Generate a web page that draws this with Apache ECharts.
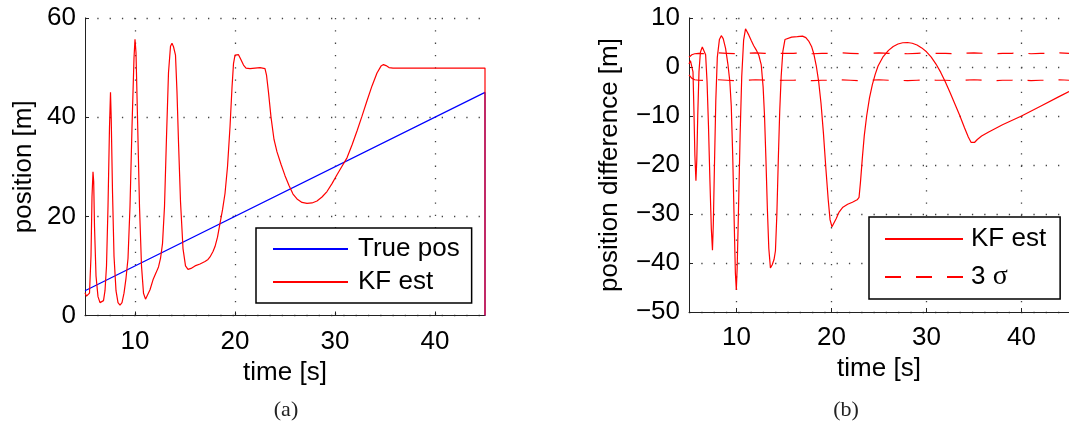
<!DOCTYPE html>
<html>
<head>
<meta charset="utf-8">
<script src="https://cdn.jsdelivr.net/npm/echarts@6/dist/echarts.min.js"></script>
<style>
  html, body { margin: 0; padding: 0; background: #fff; }
  #chart { width: 1069px; height: 433px; }
</style>
</head>
<body>
<div id="chart"></div>
<script>
// ---- (a) position: true trajectory and Kalman filter estimate ----
const truePosT = [5, 45, 45];
const truePosY = [5, 45, 0];

const estT = [5.0, 5.15, 5.3, 5.45, 5.6, 5.7, 5.8, 5.87, 5.95, 6.1, 6.3, 6.5, 6.7, 6.85,
  7.0, 7.15, 7.3, 7.45, 7.55, 7.62, 7.75, 7.9, 8.1, 8.3, 8.5, 8.7, 8.9, 9.1, 9.3, 9.5,
  9.7, 9.9, 10.0, 10.1, 10.25, 10.45, 10.65, 10.85, 11.05, 11.25, 11.5, 11.8, 12.1, 12.35,
  12.55, 12.75, 12.95, 13.15, 13.35, 13.55, 13.7, 13.85, 14.05, 14.2, 14.35, 14.55, 14.8,
  15.05, 15.3, 15.6, 16.0, 16.5, 17.0, 17.3, 17.5, 17.8, 18.0, 18.25, 18.5, 18.75, 19.0,
  19.25, 19.5, 19.7, 19.85, 20.0, 20.15, 20.35, 20.6, 20.85, 21.1, 21.5, 22.0, 22.5, 23.0,
  23.15, 23.35, 23.6, 23.9, 24.2, 24.6, 25.0, 25.4, 25.8, 26.2, 26.7, 27.2, 27.7, 28.2,
  28.7, 29.2, 29.7, 30.2, 30.7, 31.2, 31.7, 32.2, 32.7, 33.2, 33.7, 34.2, 34.6, 34.85,
  35.1, 35.4, 35.8, 40.0, 45.0, 45.0];
const estY = [4.6, 3.9, 3.8, 4.5, 12, 24, 29.0, 27, 18, 8, 3.8, 2.6, 2.4, 3.0,
  5, 10, 22, 38, 45.0, 40, 25, 12, 5, 2.6, 2.1, 2.6, 4.5, 7.5, 11.5, 22,
  38, 52, 55.7, 53, 40, 22, 10, 4.5, 3.3, 3.6, 5.2, 7.2, 8.6, 9.8,
  11.5, 14.5, 22, 36, 49, 54.3, 54.9, 54.2, 52.5, 45, 35, 23, 13.5,
  10.0, 9.3, 9.5, 10.0, 10.4, 10.9, 11.3, 11.8, 12.9, 13.9, 15.8, 18.6, 21.3, 24.6,
  30, 38, 46, 50.8, 52.5, 52.9, 52.6, 51.6, 50.5, 49.9, 49.8, 49.9, 50.0, 49.8,
  48.5, 45, 40, 35.5, 33, 30.5, 28.2, 26.2, 24.5, 23.5, 22.8, 22.6, 22.7, 23.1,
  23.9, 25.0, 26.6, 28.4, 30.1, 31.8, 34.4, 37.2, 40.2, 43.3, 46.3, 48.9, 50.3, 50.6,
  50.4, 50.0, 49.9, 49.9, 49.9, 0];

// ---- (b) position difference and its 3-sigma bound ----
const diffT = [5.0, 5.15, 5.3, 5.42, 5.52, 5.62, 5.73, 5.82, 5.92, 6.05, 6.2, 6.4, 6.57, 6.75,
  6.9, 7.05, 7.2, 7.35, 7.47, 7.56, 7.68, 7.82, 7.98, 8.2, 8.4, 8.6, 8.85, 9.1, 9.3, 9.45,
  9.6, 9.75, 9.88, 9.98, 10.07, 10.2, 10.38, 10.55, 10.75, 10.95, 11.1, 11.3, 11.55, 11.8,
  12.07, 12.35, 12.6, 12.8, 12.95, 13.1, 13.25, 13.4, 13.57, 13.75, 13.95, 14.1, 14.25,
  14.4, 14.55, 14.7, 14.88, 15.1, 15.3, 15.8, 16.4, 16.95, 17.3, 17.6, 17.9, 18.15, 18.4,
  18.65, 18.9, 19.15, 19.4, 19.65, 19.85, 20.05, 20.25, 20.5, 20.8, 21.2, 21.7, 22.2, 22.7,
  22.9, 23.05, 23.25, 23.45, 23.7, 24.0, 24.3, 24.6, 24.9, 25.4, 26.0, 26.5, 27.0, 27.5,
  28.0, 28.5, 29.0, 29.5, 30.0, 30.5, 31.0, 31.5, 32.0, 32.5, 33.0, 33.5, 34.0, 34.4, 34.7,
  34.88, 35.05, 35.35, 35.8, 36.5, 38.0, 40.0, 42.0, 44.0, 45.0];
const diffY = [0.6, 1.3, 1.5, -1, -9, -18, -23.2, -19, -10, -1, 3, 4.1, 4.2, 2.5,
  -3, -12, -23, -33, -37.4, -32, -20, -7, 2, 5.6, 6.4, 5.8, 3.8, 0.5, -3, -8,
  -18, -31, -42, -45.5, -41, -30, -14, -2, 5.5, 7.8, 7.6, 6.5, 5.4, 4.4,
  3.5, 2.4, 0.5, -4, -10, -19, -29, -37, -41.0, -40.4, -39.3, -37.5, -30,
  -19, -9, -2, 3.2, 5.6, 6.0, 6.1, 6.2, 6.3, 6.0, 5.3, 4.2, 2.6, 0.2,
  -3, -7.5, -13.5, -20.5, -27, -31.2, -32.6, -32.2, -30.9, -29.6, -28.6, -28.0, -27.6, -27.1,
  -26.6, -23.5, -18.5, -14, -10, -6.3, -3.6, -1.5, 0.2, 2.0, 3.4, 4.2, 4.7, 4.95,
  5.0, 4.85, 4.5, 3.9, 3.1, 2.0, 0.6, -1.1, -3.1, -5.3, -7.6, -9.9, -12.4, -14.3, -15.4,
  -15.7, -15.4, -14.8, -14.1, -13.3, -11.8, -10.0, -8.0, -6.0, -5.0];

const sigmaT = [5.0, 5.3, 5.6, 6, 7, 8, 9, 10, 11, 12, 13, 14, 15, 16, 17, 18, 19, 20,
  21, 22, 23, 24, 25, 26, 27, 28, 29, 30, 31, 32, 33, 34, 35, 36, 37, 38, 39, 40,
  41, 42, 43, 44, 45];
const sigmaUp = [2.0, 2.5, 2.7, 2.8, 2.7, 2.9, 2.8, 2.7, 2.8, 2.9, 2.8, 2.7, 2.8, 2.8, 2.9, 2.7, 2.8, 2.8,
  2.9, 2.8, 2.7, 2.8, 2.9, 2.8, 2.8, 2.7, 2.8, 2.9, 2.8, 2.8, 2.7, 2.8, 2.9, 2.8, 2.7, 2.8, 2.8, 2.9,
  2.7, 2.8, 2.8, 2.9, 2.8];
const sigmaLow = [-1.6, -2.3, -2.6, -2.7, -2.8, -2.6, -2.7, -2.8, -2.7, -2.6, -2.7, -2.8, -2.7, -2.7, -2.6, -2.8, -2.7, -2.7,
  -2.6, -2.7, -2.8, -2.7, -2.6, -2.7, -2.7, -2.8, -2.7, -2.6, -2.7, -2.7, -2.8, -2.7, -2.6, -2.7, -2.8, -2.7, -2.7, -2.6,
  -2.8, -2.7, -2.7, -2.6, -2.7];

const timeTicks = [10, 20, 30, 40];

const pairs = (xs, ys) => xs.map((x, i) => [x, ys[i]]);
const minusSign = v => String(v).replace('-', '\u2212');

const FONT = 'Liberation Sans';
const INK = '#000';
const AXIS_INK = '#222';
const AXIS_FS = 26;
const dotted = { type: [1.3, 11], color: '#444', width: 1.3 };

function timeAxis(gridIndex) {
  return {
    type: 'value', gridIndex, min: 5, max: 45,
    name: 'time [s]', nameLocation: 'middle', nameGap: 43,
    nameTextStyle: { fontFamily: FONT, fontSize: AXIS_FS, color: INK },
    axisLine: { onZero: false, lineStyle: { color: AXIS_INK, width: 1 } },
    axisTick: { inside: true, length: 4, customValues: timeTicks, lineStyle: { color: AXIS_INK } },
    axisLabel: { customValues: timeTicks, margin: 13, fontFamily: FONT, fontSize: AXIS_FS, color: INK },
    splitLine: { show: true, lineStyle: dotted }
  };
}

function valueAxis(gridIndex, name, min, max, interval, nameGap) {
  return {
    type: 'value', gridIndex, min, max, interval,
    name, nameLocation: 'middle', nameGap,
    nameTextStyle: { fontFamily: FONT, fontSize: AXIS_FS, color: INK },
    axisLine: { show: true, onZero: false, lineStyle: { color: AXIS_INK, width: 1 } },
    axisTick: { show: true, inside: true, length: 4, lineStyle: { color: AXIS_INK } },
    axisLabel: { margin: 9, fontFamily: FONT, fontSize: AXIS_FS, color: INK, formatter: minusSign },
    splitLine: { show: true, lineStyle: dotted }
  };
}

const legendBase = {
  orient: 'vertical',
  backgroundColor: '#fff',
  borderColor: '#000',
  borderWidth: 1.5,
  borderRadius: 0,
  itemHeight: 26,
  selectedMode: false,
  // plain line keys, no marker dot
  itemStyle: { opacity: 0 },
  textStyle: {
    fontFamily: FONT, fontSize: 26, color: INK, lineHeight: 26,
    rich: { g: { fontFamily: 'Liberation Serif', fontSize: 28, color: INK } }
  }
};

const option = {
  animation: false,
  backgroundColor: '#fff',
  grid: [
    { left: 85, right: 584, top: 18, bottom: 117.5 },
    { left: 689, right: -3, top: 18, bottom: 121 }
  ],
  xAxis: [timeAxis(0), timeAxis(1)],
  yAxis: [
    valueAxis(0, 'position [m]', 0, 60, 20, 48),
    valueAxis(1, 'position difference [m]', -50, 10, 10, 66)
  ],
  legend: [
    Object.assign({}, legendBase, {
      left: 256, top: 228,
      padding: [8, 12, 8, 16],
      itemWidth: 75, itemGap: 7,
      data: ['True pos', 'KF est'],
      textStyle: Object.assign({}, legendBase.textStyle, { padding: [0, 0, 0, 5] })
    }),
    Object.assign({}, legendBase, {
      left: 869, top: 217,
      padding: [9, 14, 8, 15],
      itemWidth: 78, itemGap: 11,
      data: ['KF est', '3 σ'],
      formatter: name => name === '3 σ' ? '3 {g|σ}' : name,
      textStyle: Object.assign({}, legendBase.textStyle, { padding: [0, 0, 0, 3] })
    })
  ],
  series: [
    {
      name: 'True pos', type: 'line', xAxisIndex: 0, yAxisIndex: 0,
      data: pairs(truePosT, truePosY), symbol: 'none',
      lineStyle: { color: '#0000ff', width: 1.2 }, itemStyle: { color: '#0000ff' }
    },
    {
      name: 'KF est', type: 'line', xAxisIndex: 0, yAxisIndex: 0,
      data: pairs(estT, estY), symbol: 'none',
      lineStyle: { color: '#ff0000', width: 1.2 }, itemStyle: { color: '#ff0000' }
    },
    {
      name: 'KF est', type: 'line', xAxisIndex: 1, yAxisIndex: 1,
      data: pairs(diffT, diffY), symbol: 'none',
      lineStyle: { color: '#ff0000', width: 1.2 }, itemStyle: { color: '#ff0000' }
    },
    {
      name: '3 σ', type: 'line', xAxisIndex: 1, yAxisIndex: 1,
      data: pairs(sigmaT, sigmaUp), symbol: 'none',
      lineStyle: { color: '#ff0000', width: 1.2, type: [16, 15] }, itemStyle: { color: '#ff0000' }
    },
    {
      name: '3 σ', type: 'line', xAxisIndex: 1, yAxisIndex: 1,
      data: pairs(sigmaT, sigmaLow), symbol: 'none',
      lineStyle: { color: '#ff0000', width: 1.2, type: [16, 15] }, itemStyle: { color: '#ff0000' }
    }
  ],
  graphic: [
    { type: 'text', x: 286, y: 410, style: { text: '(a)', textAlign: 'center', textVerticalAlign: 'middle',
      fontFamily: 'Liberation Serif', fontSize: 22, fill: '#222' } },
    { type: 'text', x: 846, y: 410, style: { text: '(b)', textAlign: 'center', textVerticalAlign: 'middle',
      fontFamily: 'Liberation Serif', fontSize: 22, fill: '#222' } }
  ]
};

const chart = echarts.init(document.getElementById('chart'), null, { renderer: 'canvas' });
chart.setOption(option);
</script>
</body>
</html>
